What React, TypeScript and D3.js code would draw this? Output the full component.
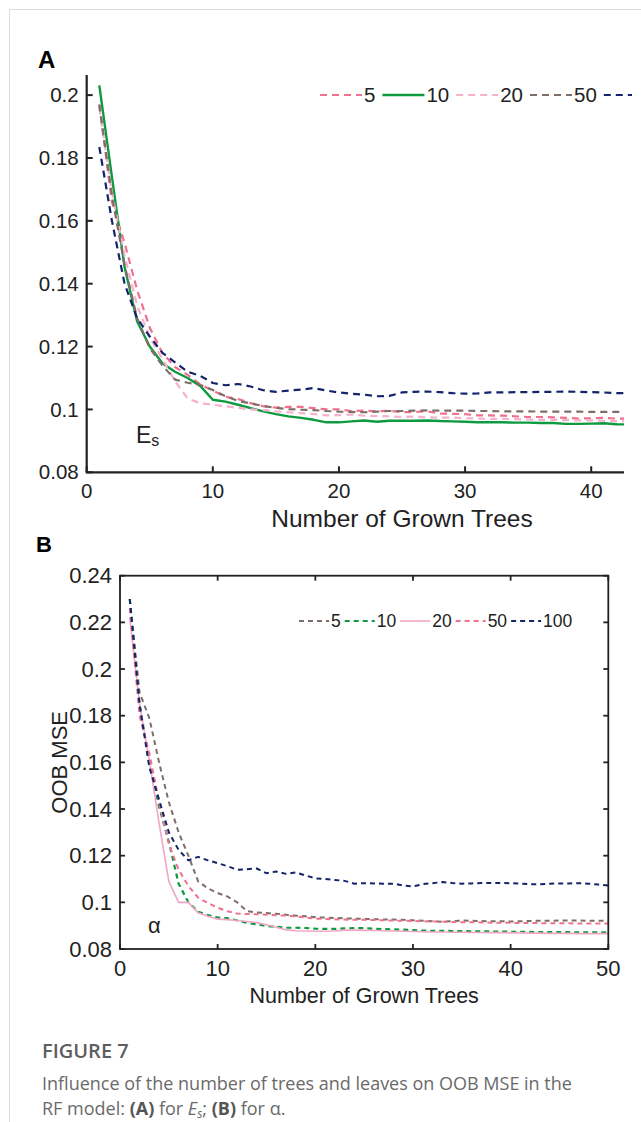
import React from "react";
import * as d3 from "d3";

// ---------- DATA ----------
const treesA = d3.range(1, 44);
const treesB = d3.range(1, 51);

// Panel A (Es): leaves = 5, 10, 20, 50, 100
const a5 = [0.197, 0.166, 0.153, 0.138, 0.126, 0.118, 0.1135, 0.111, 0.108, 0.106, 0.104, 0.1033, 0.102, 0.101, 0.1006, 0.1008, 0.1008, 0.1004, 0.1, 0.1, 0.0995, 0.0996, 0.0994, 0.0996, 0.0991, 0.0992, 0.0994, 0.0987, 0.0986, 0.0985, 0.0981, 0.0981, 0.098, 0.0978, 0.0976, 0.0976, 0.0975, 0.0973, 0.0971, 0.0972, 0.0973, 0.0971, 0.0971];
const a10 = [0.2031, 0.174, 0.1454, 0.128, 0.12, 0.1147, 0.112, 0.11, 0.1075, 0.1031, 0.1025, 0.1015, 0.1004, 0.0994, 0.0985, 0.0978, 0.0973, 0.0967, 0.0959, 0.0959, 0.0962, 0.0965, 0.0961, 0.0964, 0.0964, 0.0964, 0.0965, 0.0963, 0.0962, 0.0961, 0.0959, 0.0959, 0.0959, 0.0958, 0.0958, 0.0957, 0.0957, 0.0954, 0.0954, 0.0955, 0.0956, 0.0953, 0.0952];
const a20 = [0.196, 0.169, 0.149, 0.133, 0.123, 0.116, 0.109, 0.1035, 0.102, 0.1015, 0.101, 0.1005, 0.1, 0.0998, 0.0994, 0.0991, 0.0988, 0.0985, 0.0981, 0.0982, 0.0984, 0.098, 0.0979, 0.0978, 0.0976, 0.0977, 0.0975, 0.0974, 0.0974, 0.0972, 0.0971, 0.097, 0.097, 0.0969, 0.0968, 0.0967, 0.0967, 0.0966, 0.0965, 0.0965, 0.0964, 0.0963, 0.0962];
const a50 = [0.197, 0.168, 0.146, 0.129, 0.1195, 0.114, 0.1095, 0.1085, 0.1078, 0.1062, 0.1042, 0.1027, 0.1019, 0.1011, 0.1005, 0.1001, 0.0999, 0.0998, 0.0995, 0.0993, 0.0992, 0.0991, 0.0993, 0.0995, 0.0995, 0.0996, 0.0997, 0.0996, 0.0996, 0.0996, 0.0995, 0.0995, 0.0994, 0.0994, 0.0994, 0.0993, 0.0993, 0.0993, 0.0993, 0.0992, 0.0992, 0.0992, 0.0992];
const a100 = [0.1835, 0.16, 0.14, 0.129, 0.1232, 0.118, 0.115, 0.112, 0.1107, 0.1084, 0.1077, 0.1081, 0.1073, 0.1061, 0.1056, 0.106, 0.1063, 0.1068, 0.106, 0.1054, 0.105, 0.1047, 0.1042, 0.1043, 0.1054, 0.1056, 0.1057, 0.1055, 0.1052, 0.105, 0.1051, 0.1054, 0.1054, 0.1055, 0.1055, 0.1056, 0.1056, 0.1057, 0.1056, 0.1055, 0.1054, 0.1052, 0.1052];

// Panel B (alpha): leaves = 5, 10, 20, 50, 100
const b5 = [0.23, 0.19, 0.179, 0.16, 0.143, 0.13, 0.12, 0.109, 0.106, 0.104, 0.1025, 0.1, 0.0962, 0.0957, 0.0954, 0.0951, 0.0947, 0.0943, 0.094, 0.0936, 0.0935, 0.0933, 0.0931, 0.093, 0.0929, 0.0928, 0.0926, 0.0926, 0.0925, 0.0923, 0.0921, 0.0919, 0.0917, 0.0919, 0.0922, 0.0921, 0.092, 0.0919, 0.0919, 0.0918, 0.0919, 0.092, 0.0921, 0.0921, 0.0922, 0.0922, 0.0922, 0.0921, 0.0921, 0.0921];
const b10 = [0.23, 0.185, 0.16, 0.141, 0.126, 0.108, 0.1, 0.096, 0.0945, 0.0935, 0.0932, 0.0922, 0.0912, 0.0906, 0.0899, 0.0895, 0.0891, 0.0891, 0.089, 0.0887, 0.0886, 0.0886, 0.0888, 0.089, 0.0889, 0.0887, 0.0885, 0.0884, 0.0883, 0.0881, 0.0879, 0.0878, 0.0878, 0.0877, 0.0877, 0.0876, 0.0876, 0.0875, 0.0875, 0.0874, 0.0874, 0.0873, 0.0872, 0.0872, 0.0872, 0.0872, 0.0871, 0.0871, 0.0871, 0.0871];
const b20 = [0.222, 0.185, 0.161, 0.134, 0.109, 0.1, 0.1, 0.0955, 0.094, 0.0928, 0.0926, 0.0922, 0.0918, 0.0913, 0.0904, 0.0893, 0.0882, 0.0878, 0.0877, 0.0876, 0.0876, 0.0877, 0.0881, 0.0881, 0.088, 0.0879, 0.0878, 0.0877, 0.0876, 0.0875, 0.0874, 0.0873, 0.0873, 0.0872, 0.0872, 0.0871, 0.0871, 0.087, 0.087, 0.0869, 0.0869, 0.0868, 0.0868, 0.0867, 0.0867, 0.0867, 0.0866, 0.0866, 0.0866, 0.0866];
const b50 = [0.226, 0.18, 0.164, 0.143, 0.125, 0.114, 0.107, 0.102, 0.0997, 0.0977, 0.0962, 0.0952, 0.095, 0.0949, 0.0947, 0.0945, 0.0943, 0.094, 0.0935, 0.093, 0.0929, 0.0927, 0.0926, 0.0925, 0.0925, 0.0924, 0.0923, 0.0922, 0.0921, 0.092, 0.0919, 0.0918, 0.0917, 0.0916, 0.0915, 0.0915, 0.0914, 0.0913, 0.0912, 0.0912, 0.0911, 0.0911, 0.0911, 0.091, 0.091, 0.091, 0.0909, 0.0909, 0.0909, 0.0909];
const b100 = [0.23, 0.185, 0.158, 0.144, 0.13, 0.1225, 0.118, 0.1195, 0.118, 0.1168, 0.1155, 0.114, 0.1142, 0.1145, 0.1125, 0.1132, 0.1122, 0.1128, 0.1115, 0.1103, 0.11, 0.1096, 0.1092, 0.108, 0.1082, 0.1081, 0.108, 0.108, 0.1072, 0.1068, 0.1078, 0.1082, 0.1087, 0.1083, 0.108, 0.1081, 0.1083, 0.1083, 0.1083, 0.1082, 0.108, 0.1078, 0.1077, 0.108, 0.1081, 0.1081, 0.1082, 0.108, 0.1076, 0.1072];

// legend A: the last label ("100") is cropped out of the reference figure
const legendLabelsA = ["5", "10", "20", "50", ""];
const legendLabelsB = ["5", "10", "20", "50", "100"];
const ticksAY = [0.08, 0.1, 0.12, 0.14, 0.16, 0.18, 0.2];
const ticksAX = [0, 10, 20, 30, 40];
const ticksBY = [0.08, 0.1, 0.12, 0.14, 0.16, 0.18, 0.2, 0.22, 0.24];
const ticksBX = [0, 10, 20, 30, 40, 50];

// ---------- STYLES ----------
const PINK = "#f0708f";
const GREEN = "#0e9a3e";
const LPINK = "#f5b0cb";
const GRAY = "#7d6e6a";
const NAVY = "#13246b";
const FONT = "'Liberation Sans', Arial, Helvetica, sans-serif";
const CAPFONT = "'Open Sans', 'Noto Sans', sans-serif";

const seriesA = [
  { vals: a5, color: PINK, dash: "7 5", w: 2.2 },
  { vals: a10, color: GREEN, dash: null, w: 2.4 },
  { vals: a20, color: LPINK, dash: "7 5", w: 2.2 },
  { vals: a50, color: GRAY, dash: "7 5", w: 2.2 },
  { vals: a100, color: NAVY, dash: "7 5", w: 2.2 },
];
const seriesB = [
  { vals: b5, color: GRAY, dash: "5 4", w: 2 },
  { vals: b10, color: GREEN, dash: "5 4", w: 2.2 },
  { vals: b20, color: "#f2a6c6", dash: null, w: 1.6 },
  { vals: b50, color: PINK, dash: "5 4", w: 2 },
  { vals: b100, color: NAVY, dash: "5 4", w: 2 },
];

const fmt = (v: number) => String(+v.toFixed(2));

export default function App() {
  // Panel A geometry
  const axL = 86.7, axR = 624, ayT = 75, ayB = 472.3;
  const xA = d3.scaleLinear().domain([0, 42.6]).range([axL, axR]);
  const yA = d3.scaleLinear().domain([0.08, 0.2064]).range([ayB, ayT]);
  // Panel B geometry
  const bxL = 120, bxR = 608.3, byT = 575.7, byB = 949;
  const xB = d3.scaleLinear().domain([0, 50]).range([bxL, bxR]);
  const yB = d3.scaleLinear().domain([0.08, 0.24]).range([byB, byT]);

  const lineA = d3.line<number>().x((_, i) => xA(treesA[i])).y((d) => yA(d));
  const lineB = d3.line<number>().x((_, i) => xB(treesB[i])).y((d) => yB(d));

  const tickFsA = 20.5;
  const tickFsB = 22;

  // legend A layout
  const legAx0 = 320, legAy = 95, legAsample = 42, legAfs = 20.5;
  let cur = legAx0;
  const legAItems = seriesA.map((s, i) => {
    const x1 = cur, x2 = Math.min(cur + legAsample, 632);
    const tx = cur + legAsample + 2;
    const tw = legendLabelsA[i].length * 0.556 * legAfs;
    cur = tx + tw + 7;
    return { ...s, x1, x2, tx, label: legendLabelsA[i] };
  });
  const legBx0 = 299, legBy = 621, legBsample = 30, legBfs = 17.5;
  cur = legBx0;
  const legBItems = seriesB.map((s, i) => {
    const x1 = cur, x2 = cur + legBsample;
    const tx = x2 + 2;
    const tw = legendLabelsB[i].length * 0.556 * legBfs;
    cur = tx + tw + 4;
    return { ...s, x1, x2, tx, label: legendLabelsB[i] };
  });

  return (
    <svg width={641} height={1122} style={{ position: "absolute", left: 0, top: 0, background: "#fff" }}>
      <defs>
        <clipPath id="clipA"><rect x={axL} y={ayT - 10} width={axR - axL} height={ayB - ayT + 10} /></clipPath>
        <clipPath id="clipB"><rect x={bxL} y={byT} width={bxR - bxL} height={byB - byT} /></clipPath>
      </defs>
      {/* page border */}
      <line x1={9.5} y1={9.5} x2={641} y2={9.5} stroke="#dcdcdc" strokeWidth={1} />
      <line x1={9.5} y1={9.5} x2={9.5} y2={1122} stroke="#dcdcdc" strokeWidth={1} />

      {/* ===== Panel A ===== */}
      <text x={38} y={68} fontFamily={FONT} fontWeight="bold" fontSize={24} fill="#000">A</text>
      <g clipPath="url(#clipA)">
        {seriesA.map((s, i) => (
          <path key={i} d={lineA(s.vals) || ""} fill="none" stroke={s.color} strokeWidth={s.w}
            strokeDasharray={s.dash || undefined} strokeLinejoin="round" />
        ))}
      </g>
      <line x1={axL} y1={ayT} x2={axL} y2={ayB} stroke="#222" strokeWidth={2.2} />
      <line x1={axL - 1} y1={ayB} x2={axR} y2={ayB} stroke="#222" strokeWidth={2.2} />
      {ticksAY.map((t) => (
        <g key={t}>
          <line x1={axL} x2={axL + 6} y1={yA(t)} y2={yA(t)} stroke="#222" strokeWidth={2} />
          <text x={axL - 8} y={yA(t)} dy="0.35em" textAnchor="end" fontFamily={FONT} fontSize={tickFsA} fill="#222">{fmt(t)}</text>
        </g>
      ))}
      {ticksAX.map((t) => (
        <g key={t}>
          <line x1={xA(t)} x2={xA(t)} y1={ayB} y2={ayB - 6} stroke="#222" strokeWidth={2} />
          <text x={xA(t)} y={ayB + 26} textAnchor="middle" fontFamily={FONT} fontSize={tickFsA} fill="#222">{t}</text>
        </g>
      ))}
      <text x={402} y={527} textAnchor="middle" fontFamily={FONT} fontSize={24.5} fill="#222">Number of Grown Trees</text>
      <text x={136} y={443} fontFamily={FONT} fontSize={23} fill="#222">E<tspan fontSize={16} dy={3}>s</tspan></text>
      {legAItems.map((it, i) => (
        <g key={i}>
          <line x1={it.x1} x2={it.x2} y1={legAy} y2={legAy} stroke={it.color} strokeWidth={it.w}
            strokeDasharray={it.dash || undefined} />
          {it.label ? (
            <text x={it.tx} y={legAy} dy="0.35em" fontFamily={FONT} fontSize={legAfs} fill="#222">{it.label}</text>
          ) : null}
        </g>
      ))}

      {/* ===== Panel B ===== */}
      <text x={36} y={552} fontFamily={FONT} fontWeight="bold" fontSize={22} fill="#000">B</text>
      <g clipPath="url(#clipB)">
        {seriesB.map((s, i) => (
          <path key={i} d={lineB(s.vals) || ""} fill="none" stroke={s.color} strokeWidth={s.w}
            strokeDasharray={s.dash || undefined} strokeLinejoin="round" />
        ))}
      </g>
      <rect x={bxL} y={byT} width={bxR - bxL} height={byB - byT} fill="none" stroke="#222" strokeWidth={1.8} />
      {ticksBY.map((t) => (
        <g key={t}>
          <line x1={bxL} x2={bxL + 5} y1={yB(t)} y2={yB(t)} stroke="#222" strokeWidth={1.8} />
          <line x1={bxR} x2={bxR - 5} y1={yB(t)} y2={yB(t)} stroke="#222" strokeWidth={1.8} />
          <text x={bxL - 8} y={yB(t)} dy="0.35em" textAnchor="end" fontFamily={FONT} fontSize={tickFsB} fill="#222">{fmt(t)}</text>
        </g>
      ))}
      {ticksBX.map((t) => (
        <g key={t}>
          <line x1={xB(t)} x2={xB(t)} y1={byB} y2={byB - 5} stroke="#222" strokeWidth={1.8} />
          <line x1={xB(t)} x2={xB(t)} y1={byT} y2={byT + 5} stroke="#222" strokeWidth={1.8} />
          <text x={xB(t)} y={byB + 27} textAnchor="middle" fontFamily={FONT} fontSize={tickFsB} fill="#222">{t}</text>
        </g>
      ))}
      <text x={(bxL + bxR) / 2} y={1003} textAnchor="middle" fontFamily={FONT} fontSize={21.5} fill="#222">Number of Grown Trees</text>
      <text transform={`translate(67, ${(byT + byB) / 2}) rotate(-90)`} textAnchor="middle" fontFamily={FONT} fontSize={22} fill="#222">OOB MSE</text>
      <text x={148} y={933} fontFamily={FONT} fontSize={22} fill="#222">α</text>
      {legBItems.map((it, i) => (
        <g key={i}>
          <line x1={it.x1} x2={it.x2} y1={legBy} y2={legBy} stroke={it.color} strokeWidth={it.w}
            strokeDasharray={it.dash || undefined} />
          <text x={it.tx} y={legBy} dy="0.35em" fontFamily={FONT} fontSize={legBfs} fill="#222">{it.label}</text>
        </g>
      ))}

      {/* ===== Caption ===== */}
      <text x={42} y={1058} fontFamily={CAPFONT} fontWeight={600} fontSize={20} fill="#5e5e5e">FIGURE 7</text>
      <text x={42} y={1090} fontFamily={CAPFONT} fontSize={18} fill="#6a6a6a">Influence of the number of trees and leaves on OOB MSE in the</text>
      <text x={42} y={1115} fontFamily={CAPFONT} fontSize={18} fill="#6a6a6a">
        RF model: <tspan fontWeight={700} fill="#555">(A)</tspan> for <tspan fontStyle="italic">E</tspan><tspan fontStyle="italic" fontSize={12} dy={3}>s</tspan><tspan dy={-3}>; </tspan><tspan fontWeight={700} fill="#555">(B)</tspan> for α.
      </text>
    </svg>
  );
}
